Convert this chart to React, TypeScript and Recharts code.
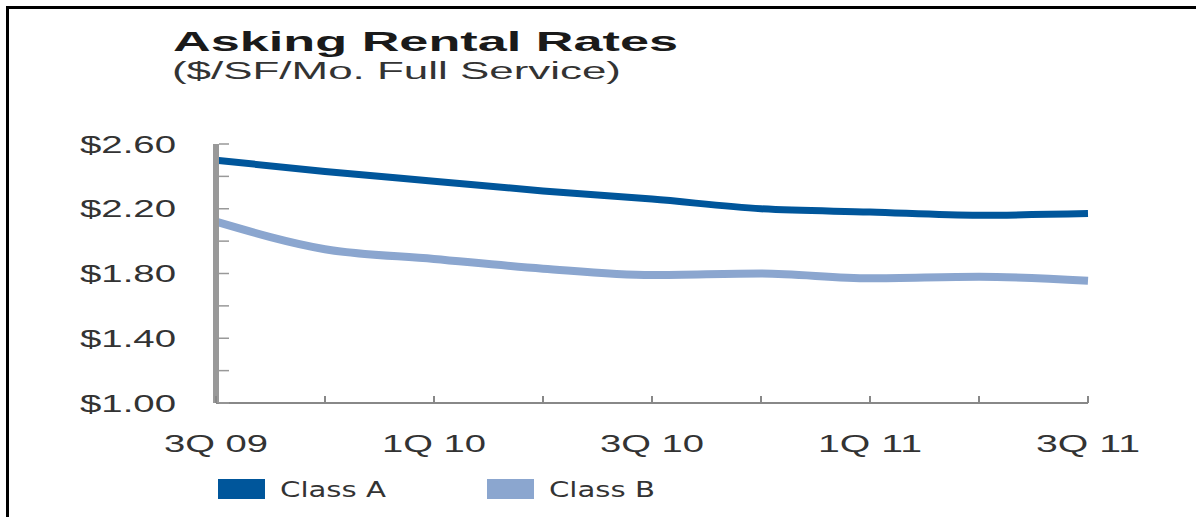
import { LineChart, Line, XAxis, YAxis, Legend } from 'recharts';

const quarters = ['3Q 09', '4Q 09', '1Q 10', '2Q 10', '3Q 10', '4Q 10', '1Q 11', '2Q 11', '3Q 11'];
const classA = [2.5, 2.43, 2.37, 2.31, 2.26, 2.2, 2.18, 2.16, 2.17];
const classB = [2.12, 1.95, 1.89, 1.83, 1.79, 1.8, 1.77, 1.78, 1.755];
const yTicks = [1.0, 1.2, 1.4, 1.6, 1.8, 2.0, 2.2, 2.4, 2.6];
const yLabelled = [1.0, 1.4, 1.8, 2.2, 2.6];

const data = quarters.map((q, i) => ({ quarter: q, classA: classA[i], classB: classB[i] }));

const FONT = '"Liberation Sans", Arial, sans-serif';
const NARROW = '"Liberation Sans Narrow", "DejaVu Sans Condensed", "Liberation Sans", sans-serif';

const YTick = (props: any) => {
  const { x, y, payload } = props;
  const v = Number(payload.value);
  const show = yLabelled.some((t) => Math.abs(t - v) < 1e-6);
  return (
    <g>
      <line x1={x + 3} x2={x + 13} y1={y} y2={y} stroke="#999" strokeWidth={1.5} />
      {show && (
        <text
          x={x - 40}
          y={y}
          textAnchor="end"
          dominantBaseline="central"
          fontFamily={FONT}
          fontSize={24}
          fill="#333"
          textLength={96}
          lengthAdjust="spacingAndGlyphs"
        >
          {'$' + v.toFixed(2)}
        </text>
      )}
    </g>
  );
};

const XTick = (props: any) => {
  const { x, y, payload, index } = props;
  return (
    <g>
      <line x1={x} x2={x} y1={y - 7} y2={y} stroke="#888" strokeWidth={2} />
      {index % 2 === 0 && (
        <text
          x={x}
          y={y + 49}
          textAnchor="middle"
          fontFamily={FONT}
          fontSize={24}
          fill="#333"
          textLength={104}
          lengthAdjust="spacingAndGlyphs"
        >
          {payload.value}
        </text>
      )}
    </g>
  );
};

const LegendContent = (props: any) => {
  const { payload } = props;
  return (
    <svg width={500} height={30}>
      {(payload || []).map((p: any, i: number) => (
        <g key={p.value} transform={`translate(${i * 269}, 0)`}>
          <rect x={0} y={3} width={47} height={20} fill={p.color} />
          <text
            x={62}
            y={21}
            fontFamily={NARROW}
            fontSize={22}
            fill="#333"
            textLength={106}
            lengthAdjust="spacingAndGlyphs"
          >
            {p.value}
          </text>
        </g>
      ))}
    </svg>
  );
};

export default function App() {
  return (
    <div
      style={{
        position: 'absolute',
        left: 0,
        top: 0,
        width: 1196,
        height: 517,
        background: '#fff',
        overflow: 'hidden',
      }}
    >
      <div
        style={{
          position: 'absolute',
          left: 6,
          top: 6,
          width: 1190,
          height: 511,
          borderTop: '3px solid #000',
          borderLeft: '3px solid #000',
          boxSizing: 'border-box',
        }}
      />
      <svg style={{ position: 'absolute', left: 0, top: 0 }} width={1196} height={100}>
        <text
          x={173}
          y={51}
          fontFamily={FONT}
          fontWeight="bold"
          fontSize={27}
          fill="#1a1a1a"
          textLength={505}
          lengthAdjust="spacingAndGlyphs"
        >
          Asking Rental Rates
        </text>
        <text
          x={172}
          y={79}
          fontFamily={FONT}
          fontSize={23}
          fill="#333"
          textLength={449}
          lengthAdjust="spacingAndGlyphs"
        >
          ($/SF/Mo. Full Service)
        </text>
      </svg>
      <div style={{ position: 'absolute', left: 0, top: 0 }}>
        <LineChart
          width={1196}
          height={517}
          data={data}
          margin={{ top: 144, right: 108, bottom: 0, left: 0 }}
        >
          <XAxis
            dataKey="quarter"
            interval={0}
            tickSize={0}
            tickMargin={0}
            height={114}
            axisLine={{ stroke: '#888', strokeWidth: 2 }}
            tickLine={false}
            tick={<XTick />}
            padding={{ left: 0, right: 0 }}
          />
          <YAxis
            domain={[1, 2.6]}
            ticks={yTicks}
            interval={0}
            width={216}
            tickSize={0}
            tickMargin={0}
            axisLine={{ stroke: '#999', strokeWidth: 6 }}
            tickLine={false}
            tick={<YTick />}
          />
          <Legend
            layout="horizontal"
            verticalAlign="middle"
            align="center"
            content={<LegendContent />}
            wrapperStyle={{ position: 'absolute', left: 218, top: 476, width: 500, height: 30 }}
          />
          <Line
            type="monotone"
            dataKey="classA"
            name="Class A"
            stroke="#00569b"
            strokeWidth={7}
            dot={false}
            activeDot={false}
            isAnimationActive={false}
          />
          <Line
            type="monotone"
            dataKey="classB"
            name="Class B"
            stroke="#8ba6cf"
            strokeWidth={8}
            dot={false}
            activeDot={false}
            isAnimationActive={false}
          />
        </LineChart>
      </div>
    </div>
  );
}
